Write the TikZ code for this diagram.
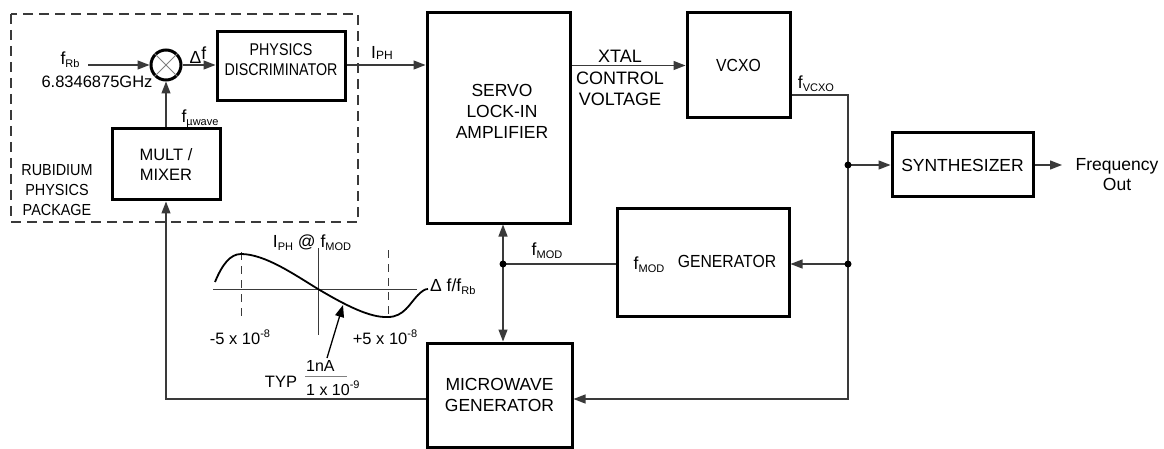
\documentclass[tikz,border=0pt]{standalone}
\usepackage{fontspec}
\setmainfont{Liberation Sans}
\newfontfamily\narrowA[FakeStretch=0.84]{Liberation Sans}
\newfontfamily\narrowB[FakeStretch=0.9]{Liberation Sans}
\usetikzlibrary{arrows.meta,calc}
\newcommand\subs[1]{\raisebox{-0.35ex}{\fontsize{11}{12}\selectfont #1}}
\newcommand\sups[1]{\raisebox{0.85ex}{\fontsize{11}{12}\selectfont #1}}
\definecolor{lineclr}{HTML}{3A3A3A}
\begin{document}
\begin{tikzpicture}[x=1pt,y=-1pt,
  font=\fontsize{17.5}{21}\selectfont,
  box/.style={draw=black, line width=3pt, inner sep=0pt, align=center},
  conn/.style={draw=lineclr, line width=1.3pt},
  arr/.style={conn, -{Triangle[length=12pt,width=9pt]}},
  dblarr/.style={conn, {Triangle[length=12pt,width=9pt]}-{Triangle[length=12pt,width=9pt]}},
  lbl/.style={inner sep=0pt, align=center},
  dot/.style={fill=black}]
\useasboundingbox (0,0) rectangle (1164,449);

% dashed package outline
\draw[lineclr, line width=1.5pt, dash pattern=on 10pt off 6pt] (11,14) rectangle (358,222);

% boxes
\node[box, circle, minimum size=30pt] (mix) at (166,65) {};
\draw[gray, line width=0.8pt] (mix.45) -- (mix.225) (mix.135) -- (mix.315);
\node[box, minimum width=128pt, minimum height=69pt] (pd) at (281,66.5) {};
\node[lbl, font=\narrowA\fontsize{17}{20}\selectfont] (pdtext) at (281,60) {PHYSICS\\DISCRIMINATOR};
\node[box, minimum width=108pt, minimum height=71pt, font=\fontsize{16.5}{20}\selectfont] (mult) at (166,164.5) {MULT /\\MIXER};
\node[box, minimum width=143pt, minimum height=210pt] (servo) at (498.5,118) {};
\node[lbl] (servotext) at (502,111) {SERVO\\LOCK-IN\\AMPLIFIER};
\node[box, minimum width=103pt, minimum height=105pt, font=\narrowB\fontsize{17.5}{21}\selectfont] (vcxo) at (738.5,65.5) {VCXO};
\node[box, minimum width=141pt, minimum height=64pt] (synth) at (962.5,165) {SYNTHESIZER};
\node[box, minimum width=172pt, minimum height=107pt] (gen) at (703,262.5) {};
\node[lbl] (genf) at (649,265) {f\subs{MOD}};
\node[lbl, font=\narrowB\fontsize{17.5}{21}\selectfont] (gentext) at (727,261) {GENERATOR};
\node[box, minimum width=145pt, minimum height=104pt] (mw) at (499.5,395) {MICROWAVE\\GENERATOR};

% coordinates
\coordinate (fin) at (88,65);
\coordinate (c1) at (848,95);
\coordinate (c2) at (848,399);
\coordinate (j1) at (848,165);
\coordinate (j2) at (848,264);
\coordinate (j3) at (503,264);
\coordinate (c3) at (166,399);
\coordinate (fout) at (1062,165);

% connectors
\draw[arr] (fin) -- (mix.west);
\draw[arr] (mix.east) -- (mix.east -| pd.west);
\draw[arr] (pd.east |- mix.east) -- (mix.east -| servo.west);
\draw[arr] (mult.north) -- (mix.south);
\draw[arr] (vcxo.west -| servo.east) -- (vcxo.west);
\draw[arr] (c1 -| vcxo.east) -- (c1) -- (c2) -- (c2 -| mw.east);
\draw[arr] (j1) -- (synth.west);
\draw[arr] (j2) -- (j2 -| gen.east);
\draw[arr] (synth.east) -- (fout);
\draw[dblarr] (servo.south -| j3) -- (mw.north -| j3);
\draw[conn] (j3) -- (j3 -| gen.west);
\draw[arr] (c3 -| mw.west) -- (c3) -- (mult.south);
\fill[dot] (j1) circle (3.5pt);
\fill[dot] (j2) circle (3.5pt);
\fill[dot] (j3) circle (3.5pt);

% labels
\node[lbl] (frb) at (70,60) {f\subs{Rb}};
\node[lbl, font=\fontsize{16.5}{20}\selectfont] (ghz) at (97,82) {6.8346875GHz};
\node[lbl] (df) at (198,55) {Δ\raisebox{0.45ex}{f}};
\node[lbl] (iph) at (382,53) {I\raisebox{-0.1ex}{\fontsize{12}{12}\selectfont PH}};
\node[lbl, font=\fontsize{18}{21.5}\selectfont] (xtal) at (620,78) {XTAL\\CONTROL\\VOLTAGE};
\node[lbl] (fvcxo) at (816,84) {f\subs{VCXO}};
\node[lbl, font=\narrowB\fontsize{16}{20}\selectfont] (rub) at (57,190) {RUBIDIUM\\PHYSICS\\PACKAGE};
\node[lbl] (fuw) at (200,119) {f\subs{µwave}};
\node[lbl] (fmodl) at (547,251) {f\subs{MOD}};
\node[lbl, font=\fontsize{17.5}{20}\selectfont] (fo) at (1117,175) {Frequency\\Out};

% discriminator curve inset
\draw[lineclr, line width=1pt] (213,289) -- (417,289);
\draw[lineclr, line width=1pt] (318,248) -- (318,335);
\draw[lineclr, line width=1pt, dash pattern=on 8pt off 6pt] (241,252) -- (241,318);
\draw[lineclr, line width=1pt, dash pattern=on 8pt off 6pt] (388,250) -- (388,318);
\draw[black, line width=1.8pt] (215,282) .. controls (222,265) and (230,254) .. (241,254)
  .. controls (265,254) and (295,275) .. (318,289)
  .. controls (345,305) and (370,318) .. (388,317)
  .. controls (404,317) and (410,303) .. (418,295)
  .. controls (422,291) and (425,289) .. (428,289);
\node[lbl] (iphmod) at (312,243) {I\subs{PH} @ f\subs{MOD}};
\node[lbl, anchor=west] (dfrb) at (430,287) {Δ f/f\subs{Rb}};
\node[lbl, font=\fontsize{16.5}{20}\selectfont] (m5) at (240,337) {-5 x 10\sups{-8}};
\node[lbl, font=\fontsize{16.5}{20}\selectfont] (p5) at (385,337) {+5 x 10\sups{-8}};
\node[lbl, font=\fontsize{16.5}{20}\selectfont] (typ) at (281,382) {TYP};
\node[lbl, anchor=west, font=\fontsize{16}{20}\selectfont] (num) at (306,366) {1nA};
\node[lbl, anchor=west, font=\fontsize{16}{20}\selectfont] (den) at (306,388) {1 x 10\sups{-9}};
\draw[gray, line width=0.8pt] (305,376) -- (347,376);
\coordinate (atail) at (327,358);
\coordinate (ahead) at (343,305);
\draw[arr, draw=black] (atail) -- (ahead);
\end{tikzpicture}
\end{document}
